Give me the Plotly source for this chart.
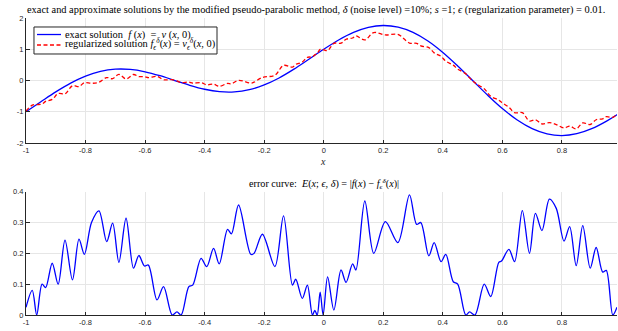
import plotly.graph_objects as go

# ---------------- data ----------------
x_exact = [-1.00, -0.95, -0.90, -0.85, -0.80, -0.75, -0.70, -0.65, -0.60, -0.55,
           -0.50, -0.45, -0.40, -0.35, -0.30, -0.25, -0.20, -0.15, -0.10, -0.05,
           0.00, 0.05, 0.10, 0.15, 0.20, 0.25, 0.30, 0.35, 0.40, 0.45,
           0.50, 0.55, 0.60, 0.65, 0.70, 0.75, 0.80, 0.85, 0.90, 0.95, 1.00]
f_exact = [-1.000, -0.679, -0.363, -0.082, 0.142, 0.293, 0.363, 0.355, 0.279, 0.153,
           0.000, -0.153, -0.279, -0.355, -0.363, -0.293, -0.142, 0.082, 0.363, 0.679,
           1.000, 1.297, 1.539, 1.700, 1.760, 1.707, 1.539, 1.263, 0.897, 0.465,
           0.000, -0.465, -0.897, -1.263, -1.539, -1.707, -1.760, -1.700, -1.539, -1.297, -1.000]

x_err = [-1.000, -0.979, -0.964, -0.946, -0.934, -0.912, -0.892, -0.869, -0.844, -0.822,
         -0.804, -0.780, -0.755, -0.729, -0.709, -0.688, -0.664, -0.639, -0.621, -0.602,
         -0.589, -0.560, -0.538, -0.509, -0.493, -0.479, -0.453, -0.440, -0.412, -0.393,
         -0.370, -0.351, -0.323, -0.310, -0.286, -0.245, -0.234, -0.206, -0.164, -0.135,
         -0.105, -0.094, -0.072, -0.055, -0.038, -0.030, -0.022, -0.012, -0.002, 0.013,
         0.034, 0.058, 0.075, 0.097, 0.108, 0.138, 0.168, 0.207, 0.249, 0.288,
         0.312, 0.326, 0.353, 0.371, 0.394, 0.410, 0.435, 0.450, 0.477, 0.490,
         0.508, 0.539, 0.561, 0.588, 0.597, 0.622, 0.641, 0.667, 0.691, 0.711,
         0.733, 0.758, 0.781, 0.807, 0.826, 0.848, 0.870, 0.895, 0.915, 0.937,
         0.949, 0.971, 0.985]
err = [0.025, 0.080, 0.000, 0.100, 0.089, 0.168, 0.100, 0.243, 0.114, 0.246,
       0.197, 0.300, 0.338, 0.238, 0.298, 0.171, 0.314, 0.152, 0.193, 0.159,
       0.162, 0.049, 0.092, 0.000, 0.010, 0.000, 0.092, 0.097, 0.184, 0.157,
       0.216, 0.166, 0.278, 0.263, 0.357, 0.197, 0.200, 0.262, 0.157, 0.322,
       0.097, 0.116, 0.054, 0.097, 0.000, 0.015, 0.000, 0.074, 0.000, 0.124,
       0.016, 0.146, 0.106, 0.166, 0.146, 0.370, 0.200, 0.303, 0.235, 0.390,
       0.294, 0.300, 0.192, 0.235, 0.173, 0.197, 0.108, 0.100, 0.000, 0.010,
       0.000, 0.100, 0.060, 0.171, 0.175, 0.213, 0.173, 0.339, 0.200, 0.330,
       0.274, 0.376, 0.346, 0.240, 0.287, 0.160, 0.290, 0.152, 0.219, 0.139,
       0.145, 0.000, 0.025]
f_reg = [-0.975, -0.786, -0.769, -0.753, -0.665, -0.605, -0.415, -0.426, -0.166, -0.194,
         -0.070, -0.088, -0.057, 0.094, 0.059, 0.197, 0.051, 0.192, 0.125, 0.124,
         0.093, 0.132, 0.025, 0.028, -0.012, -0.066, -0.052, -0.084, -0.068, -0.136,
         -0.116, -0.188, -0.091, -0.105, 0.005, -0.084, -0.054, 0.098, 0.170, 0.483,
         0.430, 0.516, 0.591, 0.743, 0.756, 0.823, 0.860, 0.998, 0.987, 0.957,
         1.190, 1.194, 1.320, 1.360, 1.425, 1.300, 1.534, 1.457, 1.474, 1.199,
         1.188, 1.108, 1.051, 0.884, 0.772, 0.618, 0.492, 0.365, 0.216, 0.084,
         -0.075, -0.265, -0.505, -0.627, -0.697, -0.854, -1.030, -1.029, -1.297, -1.256,
         -1.389, -1.347, -1.408, -1.518, -1.456, -1.544, -1.357, -1.407, -1.255, -1.227,
         -1.157, -1.177, -1.068]

xtick_vals = [-1, -0.8, -0.6, -0.4, -0.2, 0, 0.2, 0.4, 0.6, 0.8]
xtick_text = ["-1", "-0.8", "-0.6", "-0.4", "-0.2", "0", "0.2", "0.4", "0.6", "0.8"]
ytop_vals = [-2, -1, 0, 1, 2]
ytop_text = ["-2", "-1", "0", "1", "2"]
ybot_vals = [0, 0.1, 0.2, 0.3, 0.4]
ybot_text = ["0", "0.1", "0.2", "0.3", "0.4"]

title_top = ("exact and approximate solutions by the modified pseudo-parabolic method, "
             "<i>δ</i> (noise level) =10%; <i>s</i> =1; <i>ϵ</i> (regularization parameter) = 0.01.")
title_bot = ("error curve:  <i>E</i>(<i>x</i>; <i>ϵ</i>, <i>δ</i>) = |<i>f</i>(<i>x</i>) − "
             "<i>f</i><sub><i>ϵ</i></sub><sup><i>δ</i></sup>(<i>x</i>)|")
name_exact = "exact solution  <i>f</i> (<i>x</i>)  =  <i>v</i> (<i>x</i>, 0)"
name_reg = ("regularized solution <i>f</i><sub><i>ϵ</i></sub><sup><i>δ</i></sup>(<i>x</i>) = "
            "<i>v</i><sub><i>ϵ</i></sub><sup><i>δ</i></sup>(<i>x</i>, 0)")

# ---------------- figure ----------------
SERIF = "Liberation Serif"
SANS = "Liberation Sans"
TICKC = "#262626"
GRIDC = "#e6e6e6"
BLUE = "#0000ff"
RED = "#ff0000"

fig = go.Figure()
fig.add_trace(go.Scatter(x=x_exact, y=f_exact, mode="lines", name=name_exact,
                         line=dict(color=BLUE, width=1.3, shape="spline"),
                         xaxis="x", yaxis="y"))
fig.add_trace(go.Scatter(x=x_err, y=f_reg, mode="lines", name=name_reg,
                         line=dict(color=RED, width=1.3, dash="4px,2.5px", shape="spline"),
                         xaxis="x", yaxis="y"))
fig.add_trace(go.Scatter(x=x_err, y=err, mode="lines", showlegend=False,
                         line=dict(color=BLUE, width=1.3, shape="spline", smoothing=0.9),
                         xaxis="x2", yaxis="y2"))

axis_common = dict(showgrid=True, gridcolor=GRIDC, gridwidth=1, zeroline=False,
                   showline=True, linecolor=TICKC, linewidth=1, automargin=False,
                   ticks="inside", ticklen=3.5, tickcolor=TICKC, tickwidth=1,
                   tickfont=dict(family=SANS, size=7.5, color=TICKC), mirror=False)

# hand-drawn legend box (paper coordinates)
leg_x0, leg_x1, leg_y0, leg_y1 = 0.0135, 0.3232, 0.8788, 0.9697
row_y = [0.9444, 0.9091]
sample_x0, sample_x1, text_x = 0.0186, 0.0592, 0.0618

shapes = [
    dict(type="rect", xref="paper", yref="paper", x0=leg_x0, x1=leg_x1, y0=leg_y0, y1=leg_y1,
         line=dict(color="#262626", width=1), fillcolor="white", layer="above"),
    dict(type="line", xref="paper", yref="paper", x0=sample_x0, x1=sample_x1, y0=row_y[0], y1=row_y[0],
         line=dict(color=BLUE, width=1.3), layer="above"),
    dict(type="line", xref="paper", yref="paper", x0=sample_x0, x1=sample_x1, y0=row_y[1], y1=row_y[1],
         line=dict(color=RED, width=1.3, dash="4px,2.5px"), layer="above"),
]

annotations = [
    dict(text=title_top, xref="paper", yref="paper", x=0.49, y=1.027, xanchor="center",
         yanchor="middle", showarrow=False, font=dict(family=SERIF, size=10.4, color="black")),
    dict(text="<i>x</i>", xref="paper", yref="paper", x=0.503, y=0.5185, xanchor="center",
         yanchor="middle", showarrow=False, font=dict(family=SERIF, size=10, color=TICKC)),
    dict(text=title_bot, xref="paper", yref="paper", x=0.505, y=0.441, xanchor="center",
         yanchor="middle", showarrow=False, font=dict(family=SERIF, size=10.2, color="black")),
    dict(text=name_exact, xref="paper", yref="paper", x=text_x, y=row_y[0], xanchor="left",
         yanchor="middle", showarrow=False, font=dict(family=SERIF, size=10.4, color="black")),
    dict(text=name_reg, xref="paper", yref="paper", x=text_x, y=row_y[1], xanchor="left",
         yanchor="middle", showarrow=False, font=dict(family=SERIF, size=10.4, color="black")),
]

fig.update_layout(
    width=618, height=331,
    margin=dict(l=26, r=1, t=18, b=16),
    paper_bgcolor="white", plot_bgcolor="white",
    showlegend=False,
    xaxis=dict(domain=[0, 1], range=[-1, 0.985], tickvals=xtick_vals, ticktext=xtick_text,
               anchor="y", **axis_common),
    yaxis=dict(domain=[0.579, 1.0], range=[-2, 2], tickvals=ytop_vals, ticktext=ytop_text,
               anchor="x", **axis_common),
    xaxis2=dict(domain=[0, 1], range=[-1, 0.985], tickvals=xtick_vals, ticktext=xtick_text,
                anchor="y2", **axis_common),
    yaxis2=dict(domain=[0.0, 0.415], range=[0, 0.4], tickvals=ybot_vals, ticktext=ybot_text,
                anchor="x2", **axis_common),
    shapes=shapes,
    annotations=annotations,
)

fig.write_html("out.html", config={"displayModeBar": False},
               post_script="document.body.style.margin='0px';")
